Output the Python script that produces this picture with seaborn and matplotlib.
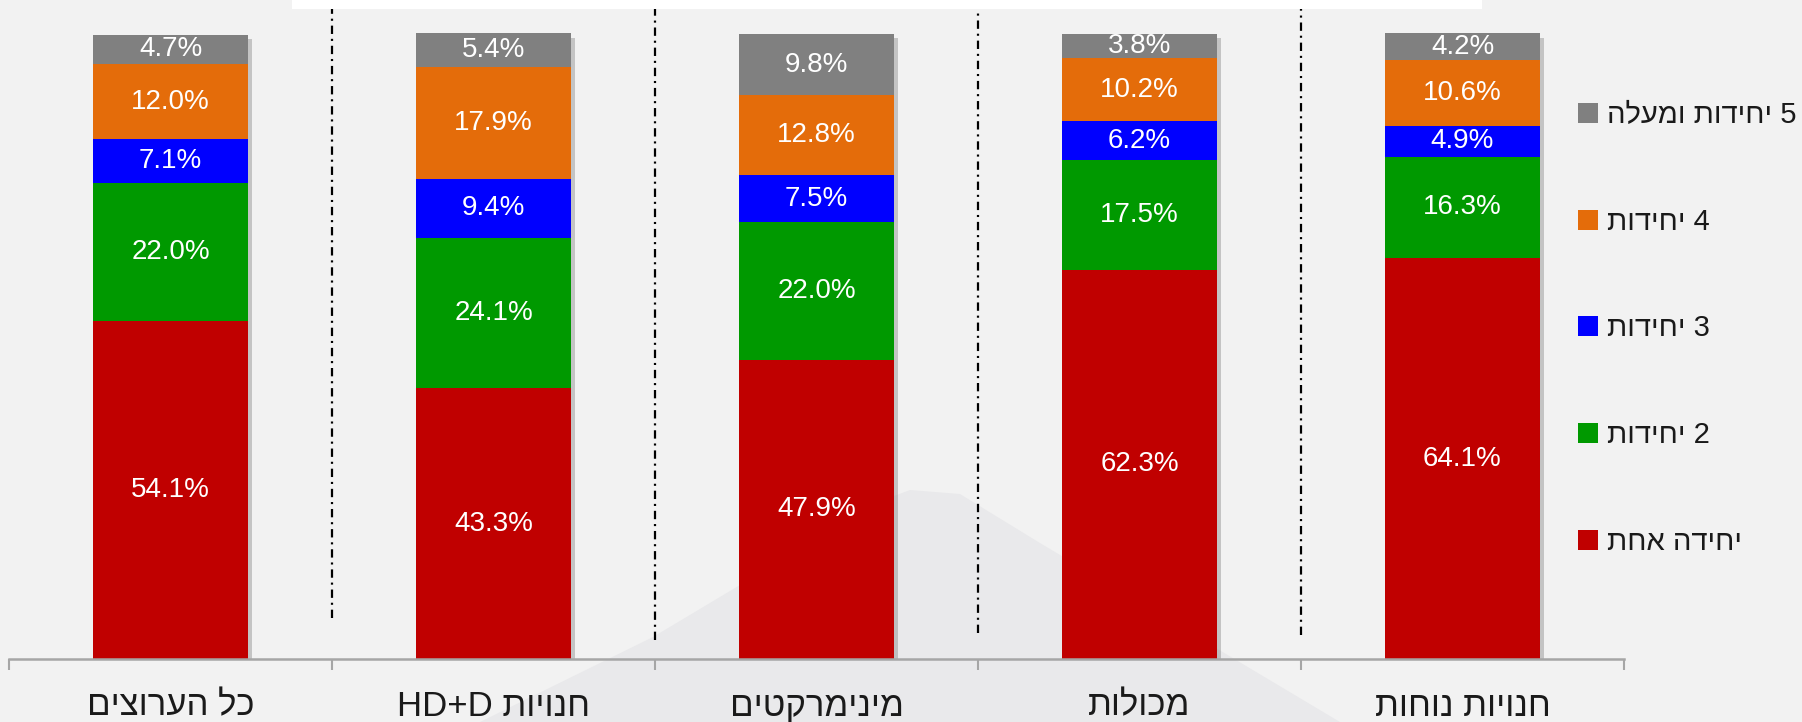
import numpy as np
import pandas as pd
import seaborn as sns
import matplotlib.pyplot as plt
import matplotlib.patheffects as pe
from matplotlib.patches import Patch, Polygon, Rectangle

# ---------- DATA ----------

categories = ["כל הערוצים", "חנויות HD+D", "מינימרקטים", "מכולות", "חנויות נוחות"]

series_names = ["יחידה אחת", "2 יחידות", "3 יחידות", "4 יחידות", "5 יחידות ומעלה"]

one_unit = [54.1, 43.3, 47.9, 62.3, 64.1]
two_units = [22.0, 24.1, 22.0, 17.5, 16.3]
three_units = [7.1, 9.4, 7.5, 6.2, 4.9]
four_units = [12.0, 17.9, 12.8, 10.2, 10.6]
five_plus = [4.7, 5.4, 9.8, 3.8, 4.2]

colors = ["#C00000", "#009900", "#0000FF", "#E46C0A", "#808080"]


def rtl(text):
    # matplotlib has no bidi support, so lay hebrew out in visual order
    words = text.split(" ")[::-1]
    out = []
    for w in words:
        if any("\u0590" <= c <= "\u05ff" for c in w):
            out.append(w[::-1])
        else:
            out.append(w)
    return " ".join(out)


df = pd.DataFrame(
    dict(zip(series_names, [one_unit, two_units, three_units, four_units, five_plus])),
    index=categories
) / 100

cum = df.cumsum(axis=1)

# ---------- FIGURE ----------

sns.set_style("white")
plt.rcParams["font.family"] = ["Liberation Sans", "DejaVu Sans"]
plt.rcParams["lines.scale_dashes"] = False

W, H = 1802, 722
fig = plt.figure(figsize=(W / 100, H / 100), dpi=100, facecolor="#F2F2F2")


def px(x, y):
    return (x / W, 1 - y / H)


# faint background shape
blob = Polygon(
    [px(480, 722), px(653, 637), px(740, 585), px(870, 505), px(910, 490),
     px(960, 494), px(1040, 543), px(1340, 722)],
    closed=True, transform=fig.transFigure, facecolor="#E9E9EB",
    edgecolor="none", zorder=-2
)
fig.patches.append(blob)

# white strip at the top
strip = Rectangle(px(292, 9), (1482 - 292) / W, 9 / H, transform=fig.transFigure,
                  facecolor="white", edgecolor="none", zorder=-1)
fig.patches.append(strip)

ax = fig.add_axes([9 / W, 63 / H, (1624 - 9) / W, (659 - 9) / H])
ax.set_facecolor("none")

# ---------- STACKED BARS ----------

for i in range(4, -1, -1):
    name = series_names[i]
    sns.barplot(
        x=categories,
        y=cum[name].values,
        order=categories,
        color=colors[i],
        saturation=1,
        width=0.48,
        errorbar=None,
        linewidth=0,
        ax=ax
    )
    if i == 4:
        for p in ax.patches:
            p.set_path_effects([
                pe.SimplePatchShadow(offset=(3, -3), shadow_rgbFace="#7F7F7F", alpha=0.4),
                pe.Normal()
            ])

# value labels
for j, cat in enumerate(categories):
    for name in series_names:
        v = df.loc[cat, name]
        yc = cum.loc[cat, name] - v / 2
        ax.text(j, yc, f"{v * 100:.1f}%", ha="center", va="center",
                color="white", fontsize=20)

# dash-dot dividers between groups
div_bottoms = [0.066, 0.030, 0.042, 0.038]
for k, yb in enumerate(div_bottoms):
    ax.plot([k + 0.5, k + 0.5], [yb, 1.04], color="black", lw=1.6,
            linestyle=(0, (6, 3.5, 1.5, 3.5)), solid_capstyle="butt")

# ---------- AXES ----------

ax.set_xlim(-0.5, 4.5)
ax.set_ylim(0, 1.04)
ax.set_yticks([])
ax.set_ylabel("")
ax.set_xticks(range(5))
ax.set_xticklabels([rtl(c) for c in categories], fontsize=25, color="#1A1A1A")
ax.set_xticks(np.arange(-0.5, 5, 1), minor=True)
ax.tick_params(axis="x", which="major", bottom=False, length=0, pad=22)
ax.tick_params(axis="x", which="minor", bottom=True, length=8, width=1.5,
               color="#A6A6A6", direction="out")

for s in ["top", "right", "left"]:
    ax.spines[s].set_visible(False)
ax.spines["bottom"].set_color("#A6A6A6")
ax.spines["bottom"].set_linewidth(1.8)

# ---------- LEGEND ----------

handles = [Patch(facecolor=colors[i], edgecolor="none", label=rtl(series_names[i]))
           for i in range(4, -1, -1)]

fig.legend(
    handles=handles,
    loc="upper left",
    bbox_to_anchor=px(1578, 101),
    frameon=False,
    fontsize=21,
    handlelength=0.68,
    handleheight=0.68,
    handletextpad=0.3,
    labelspacing=2.7,
    borderpad=0,
    borderaxespad=0,
    labelcolor="#1A1A1A"
)

plt.savefig("out.png", dpi=100, facecolor=fig.get_facecolor())
